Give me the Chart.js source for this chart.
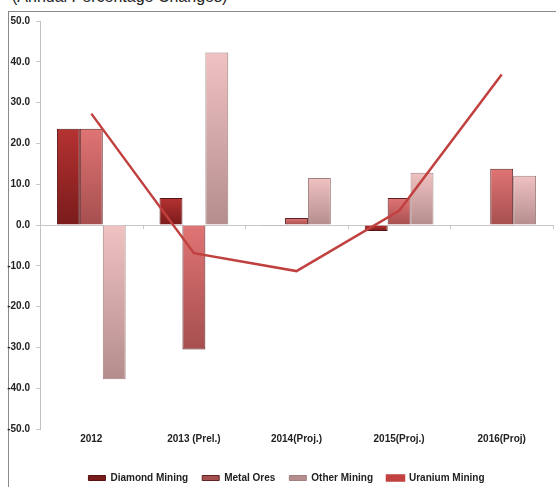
<!DOCTYPE html>
<html lang="en">

<head>
	<meta charset="UTF-8">
	<title>Annual Percentage Changes</title>
	<style>
		body {
			margin: 0;
			width: 556px;
			height: 487px;
			overflow: hidden;
			background: #fff;
			position: relative;
			font-family: "Liberation Sans", Arial, sans-serif;
		}

		.title {
			position: absolute;
			left: 12px;
			top: -11px;
			font-size: 16px;
			line-height: 16px;
			color: #222;
			white-space: nowrap;
		}

		.frame {
			position: absolute;
			left: 8px;
			top: 11px;
			width: 560px;
			height: 490px;
			border-top: 1px solid #8a8a8a;
			border-left: 1px solid #8a8a8a;
		}

		#chart {
			position: absolute;
			left: 0;
			top: 0;
		}
	</style>
</head>

<body>
	<div class="title">(Annual Percentage Changes)</div>
	<div class="frame"></div>
	<canvas id="chart" width="556" height="493"></canvas>
	<script src="https://cdn.jsdelivr.net/npm/chart.js"></script>
	<script>
		const years = ['2012', '2013 (Prel.)', '2014(Proj.)', '2015(Proj.)', '2016(Proj)'];
		const diamondMining = [23.6, 6.6, -0.2, -1.5, 0];
		const metalOres = [23.6, -30.5, 1.7, 6.6, 13.8];
		const otherMining = [-37.8, 42.3, 11.5, 12.8, 12.1];
		const uraniumMining = [27.3, -6.9, -11.3, 3.5, 36.9];
		const yTicks = [-50, -40, -30, -20, -10, 0, 10, 20, 30, 40, 50];

		const font = { family: '"Liberation Sans", Arial, sans-serif', size: 10, weight: 'bold' };

		// vertical gradient inside each bar, light on top, dark at the bottom
		function barFill(top, bottom) {
			return function (ctx) {
				const chart = ctx.chart;
				if (ctx.type !== 'data' || !chart.chartArea) return top;
				const y = chart.scales.y;
				const a = y.getPixelForValue(0);
				const b = y.getPixelForValue(ctx.raw);
				const y0 = Math.min(a, b), y1 = Math.max(a, b);
				if (y1 - y0 < 1) return bottom;
				const g = chart.ctx.createLinearGradient(0, y0, 0, y1);
				g.addColorStop(0, top);
				g.addColorStop(1, bottom);
				return g;
			};
		}

		// small ticks along the zero line between categories
		const zeroTicks = {
			id: 'zeroTicks',
			beforeDatasetsDraw(chart) {
				const x = chart.scales.x, y = chart.scales.y;
				const c = chart.ctx;
				const y0 = y.getPixelForValue(0);
				c.save();
				c.strokeStyle = '#c8c8c8';
				c.lineWidth = 1;
				c.beginPath();
				for (let i = 0; i <= years.length; i++) {
					const px = Math.round(x.getPixelForValue(i - 0.5)) + 0.5;
					c.moveTo(px, y0);
					c.lineTo(px, y0 + 4);
				}
				c.stroke();
				c.restore();
			}
		};

		// legend sits a little right of the canvas centre
		const legendShift = {
			id: 'legendShift',
			afterLayout(chart) {
				chart.legend.left += 10;
				chart.legend.right += 10;
			}
		};

		new Chart(document.getElementById('chart'), {
			data: {
				labels: years,
				datasets: [{
					type: 'bar',
					label: 'Diamond Mining',
					data: diamondMining,
					backgroundColor: barFill('#b53232', '#7a1b1b'),
					borderColor: '#561313',
					borderWidth: 1,
					order: 1
				}, {
					type: 'bar',
					label: 'Metal Ores',
					data: metalOres,
					backgroundColor: barFill('#e07474', '#a64f4f'),
					borderColor: '#5e2222',
					borderWidth: 1,
					order: 1
				}, {
					type: 'bar',
					label: 'Other Mining',
					data: otherMining,
					backgroundColor: barFill('#f0c2c2', '#b58d8d'),
					borderColor: '#a08080',
					borderWidth: 1,
					order: 1
				}, {
					type: 'line',
					label: 'Uranium Mining',
					data: uraniumMining,
					borderColor: '#c0413f',
					backgroundColor: '#c0413f',
					borderWidth: 2.5,
					pointRadius: 0,
					tension: 0,
					order: 0
				}]
			},
			options: {
				responsive: false,
				animation: false,
				layout: { padding: { top: 21, right: 3, left: 0, bottom: 0 } },
				datasets: {
					bar: { barPercentage: 1.0, categoryPercentage: 0.67 }
				},
				scales: {
					x: {
						grid: { display: false, drawTicks: false },
						border: { display: false },
						ticks: { font: font, color: '#222', padding: 4, maxRotation: 0 },
						afterFit(s) { s.height = 30; }
					},
					y: {
						min: -50,
						max: 50,
						afterBuildTicks(s) { s.ticks = yTicks.map(v => ({ value: v })); },
						afterFit(s) { s.width = 40; },
						grid: {
							color: c => c.tick && c.tick.value === 0 ? '#c8c8c8' : 'rgba(0,0,0,0)',
							tickColor: '#c8c8c8',
							tickLength: 4
						},
						border: { color: '#c0c0c0' },
						ticks: {
							font: font,
							color: '#222',
							padding: 6,
							callback: v => v.toFixed(1)
						}
					}
				},
				plugins: {
					legend: {
						position: 'bottom',
						labels: {
							font: font,
							color: '#222',
							boxWidth: 17,
							boxHeight: 5,
							padding: 14,
							sort: (a, b) => a.datasetIndex - b.datasetIndex
						}
					},
					tooltip: { enabled: false }
				}
			},
			plugins: [zeroTicks, legendShift]
		});
	</script>
</body>

</html>
